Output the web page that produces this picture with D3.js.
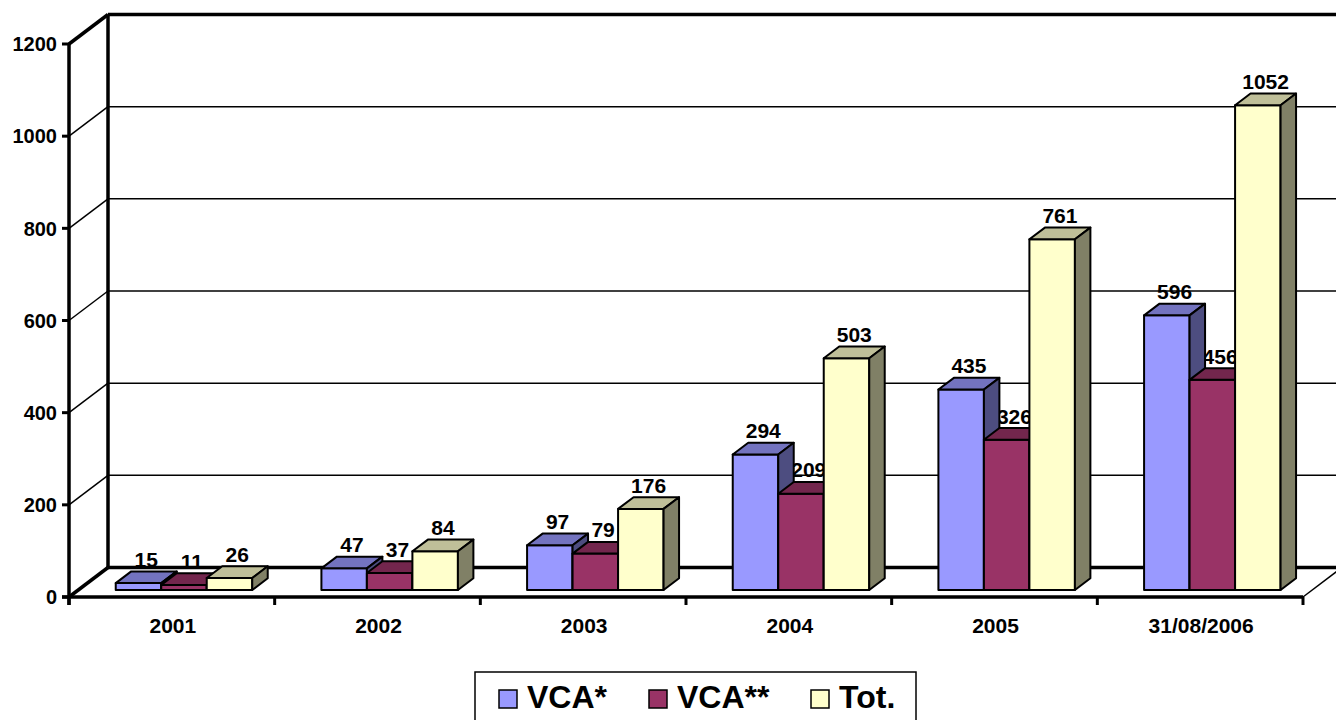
<!DOCTYPE html>
<html>
<head>
<meta charset="utf-8">
<script src="https://cdn.jsdelivr.net/npm/d3@7"></script>
<style>
  body { margin: 0; background: #fff; }
  svg { display: block; }
  text { font-family: "Liberation Sans", Arial, sans-serif; font-weight: bold; fill: #000; }
</style>
</head>
<body>
<svg id="chart" width="1336" height="720"></svg>
<script>
const categories = ["2001", "2002", "2003", "2004", "2005", "31/08/2006"];
const series_names = ["VCA*", "VCA**", "Tot."];
const vca_single = [15, 47, 97, 294, 435, 596];
const vca_double = [11, 37, 79, 209, 326, 456];
const totals = [26, 84, 176, 503, 761, 1052];
const y_ticks = [0, 200, 400, 600, 800, 1000, 1200];

const series_values = [vca_single, vca_double, totals];
const series_colors = [
    { front: "#9999ff", top: "#7373bf", side: "#4d4d80" },
    { front: "#993366", top: "#73264d", side: "#4d1a33" },
    { front: "#ffffcc", top: "#bfbf99", side: "#808066" }
];

// oblique depth of the whole plot box, and of a bar
const DEPTH_X = 39, DEPTH_Y = -29.5;
const BAR_Z0 = 0.237, BAR_Z1 = 0.634;

var svg = d3.select("svg#chart");

var x0 = d3.scaleBand().domain(categories).range([69, 1303]);
var x1 = d3.scaleBand().domain(series_names).range([37.5, 174]);
var y = d3.scaleLinear().domain([0, 1200]).range([597, 44]);

function pt(x, yy, z) {
    return [x + DEPTH_X * z, yy + DEPTH_Y * z];
}
function poly(points) {
    return points.map(p => p[0].toFixed(2) + "," + p[1].toFixed(2)).join(" ");
}

// walls
var walls = svg.append("g").attr("id", "walls");
var xLeft = x0.range()[0], xRight = x0.range()[1];

// back wall gridlines
y_ticks.forEach(function(t) {
    let a = pt(xLeft, y(t), 1);
    let thick = (t == 0 || t == 1200);
    walls.append("line")
        .attr("x1", a[0]).attr("y1", a[1])
        .attr("x2", 1340).attr("y2", a[1])
        .style("stroke", "black")
        .style("stroke-width", thick ? 3.5 : 1.5);
    // side wall diagonal
    let b = pt(xLeft, y(t), 0);
    walls.append("line")
        .attr("x1", b[0]).attr("y1", b[1])
        .attr("x2", a[0]).attr("y2", a[1])
        .style("stroke", "black")
        .style("stroke-width", thick ? 3.5 : 1.5);
});

// back wall left edge
walls.append("line")
    .attr("x1", pt(xLeft, y(0), 1)[0]).attr("y1", pt(xLeft, y(0), 1)[1])
    .attr("x2", pt(xLeft, y(1200), 1)[0]).attr("y2", pt(xLeft, y(1200), 1)[1])
    .style("stroke", "black")
    .style("stroke-width", 3.5);

// floor right edge
walls.append("line")
    .attr("x1", xRight).attr("y1", y(0))
    .attr("x2", pt(xRight, y(0), 1)[0]).attr("y2", pt(xRight, y(0), 1)[1])
    .style("stroke", "black")
    .style("stroke-width", 1.5);

// front axes
var axes = svg.append("g").attr("id", "axes");
axes.append("line")
    .attr("x1", xLeft).attr("y1", y(1200))
    .attr("x2", xLeft).attr("y2", y(0) + 8)
    .style("stroke", "black").style("stroke-width", 3.5);
axes.append("line")
    .attr("x1", xLeft - 7).attr("y1", y(0))
    .attr("x2", xRight).attr("y2", y(0))
    .style("stroke", "black").style("stroke-width", 3.5);

axes.selectAll("line.ytick")
    .data(y_ticks)
    .join("line")
    .attr("class", "ytick")
    .attr("x1", xLeft - 7).attr("x2", xLeft)
    .attr("y1", d => y(d)).attr("y2", d => y(d))
    .style("stroke", "black").style("stroke-width", 3);

axes.selectAll("text.ylabel")
    .data(y_ticks)
    .join("text")
    .attr("class", "ylabel")
    .attr("x", 57)
    .attr("y", d => y(d))
    .attr("dy", "0.36em")
    .attr("text-anchor", "end")
    .style("font-size", "20px")
    .text(d => d);

var x_bounds = categories.map(c => x0(c)).concat([xRight]);
axes.selectAll("line.xtick")
    .data(x_bounds)
    .join("line")
    .attr("class", "xtick")
    .attr("x1", d => d).attr("x2", d => d)
    .attr("y1", y(0)).attr("y2", y(0) + 8)
    .style("stroke", "black").style("stroke-width", 3);

axes.selectAll("text.xlabel")
    .data(categories)
    .join("text")
    .attr("class", "xlabel")
    .attr("x", d => x0(d) + x0.bandwidth() / 2 + 1)
    .attr("y", 632.5)
    .attr("text-anchor", "middle")
    .style("font-size", "21px")
    .text(d => d);

// bars
var bars_data = [];
categories.forEach(function(c, ci) {
    series_names.forEach(function(s, si) {
        bars_data.push({ cat: c, ser: s, si: si, value: series_values[si][ci] });
    });
});

function barGeom(d) {
    let xa = x0(d.cat) + x1(d.ser);
    let xb = xa + x1.bandwidth();
    let yb = y(0), yt = y(d.value);
    return {
        front: [pt(xa, yb, BAR_Z0), pt(xb, yb, BAR_Z0), pt(xb, yt, BAR_Z0), pt(xa, yt, BAR_Z0)],
        top: [pt(xa, yt, BAR_Z0), pt(xb, yt, BAR_Z0), pt(xb, yt, BAR_Z1), pt(xa, yt, BAR_Z1)],
        side: [pt(xb, yb, BAR_Z0), pt(xb, yb, BAR_Z1), pt(xb, yt, BAR_Z1), pt(xb, yt, BAR_Z0)],
        label: pt((xa + xb) / 2, yt, (BAR_Z0 + BAR_Z1) / 2)
    };
}

// labels first: the bars drawn later hide parts of them, as in the original
var labels_g = svg.append("g").attr("id", "labels");
labels_g.selectAll("text")
    .data(bars_data)
    .join("text")
    .attr("x", d => barGeom(d).label[0])
    .attr("y", d => pt(0, y(d.value), BAR_Z1)[1] - 4.5)
    .attr("text-anchor", "middle")
    .style("font-size", "21px")
    .text(d => d.value);

var bars_g = svg.append("g").attr("id", "bars");
var bar = bars_g.selectAll("g")
    .data(bars_data)
    .join("g");

bar.append("polygon")
    .attr("points", d => poly(barGeom(d).front))
    .attr("fill", d => series_colors[d.si].front);
bar.append("polygon")
    .attr("points", d => poly(barGeom(d).top))
    .attr("fill", d => series_colors[d.si].top);
bar.append("polygon")
    .attr("points", d => poly(barGeom(d).side))
    .attr("fill", d => series_colors[d.si].side);
bar.selectAll("polygon")
    .style("stroke", "black")
    .style("stroke-width", 2)
    .style("stroke-linejoin", "round");

// legend
var legend = svg.append("g").attr("id", "legend");
legend.append("rect")
    .attr("x", 475).attr("y", 672)
    .attr("width", 441).attr("height", 60)
    .attr("fill", "white")
    .style("stroke", "black")
    .style("stroke-width", 1.5);

var legend_x = [499, 649, 811];
var item = legend.selectAll("g")
    .data(series_names)
    .join("g")
    .attr("transform", (d, i) => "translate(" + legend_x[i] + ",690)");
item.append("rect")
    .attr("width", 18).attr("height", 18)
    .attr("fill", (d, i) => series_colors[i].front)
    .style("stroke", "black")
    .style("stroke-width", 1.5);
item.append("text")
    .attr("x", 28)
    .attr("y", 18)
    .style("font-size", "32px")
    .text(d => d);
</script>
</body>
</html>
